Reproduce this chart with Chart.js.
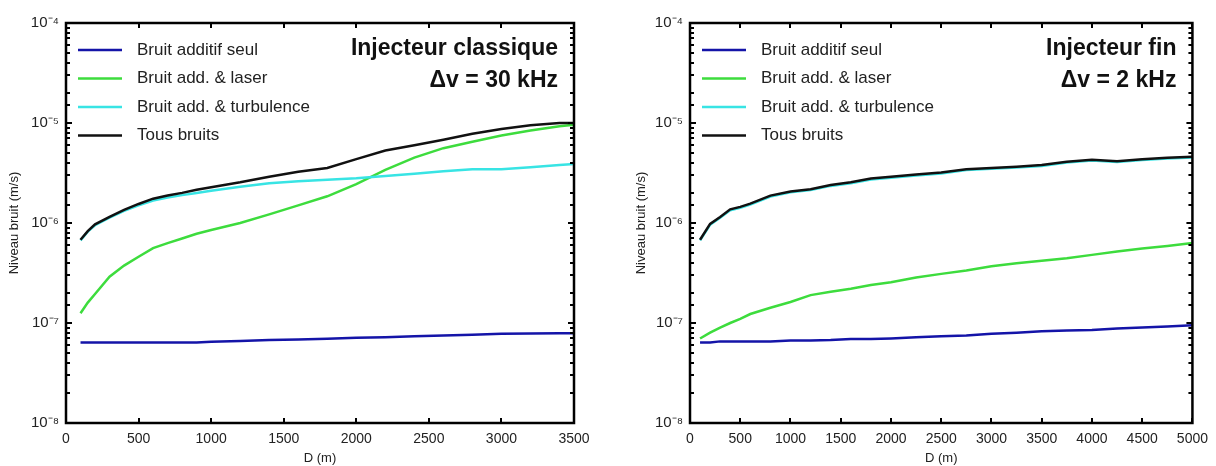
<!DOCTYPE html>
<html>
<head>
<meta charset="utf-8">
<script src="https://cdn.jsdelivr.net/npm/chart.js@4.4.1/dist/chart.umd.min.js"></script>
<style>
  html, body { margin: 0; padding: 0; background: #fff; }
  canvas { position: absolute; top: 0; }
  #left { left: 0; }
  #right { left: 608px; }
</style>
</head>
<body>
<canvas id="left" width="608" height="466"></canvas>
<canvas id="right" width="608" height="466"></canvas>
<script>
// legend labels (same for both plots)
const seriesLabels = ["Bruit additif seul", "Bruit add. & laser", "Bruit add. & turbulence", "Tous bruits"];

// y axis decades
const decadeValues = [1e-8, 1e-7, 1e-6, 1e-5, 1e-4];
const decadeLabels = ["10⁻⁸", "10⁻⁷", "10⁻⁶", "10⁻⁵", "10⁻⁴"];

// left plot : injecteur classique, D in m
const distClassique = [100, 150, 200, 300, 400, 500, 600, 700, 800, 900, 1000, 1200, 1400, 1600, 1800, 2000, 2200, 2400, 2600, 2800, 3000, 3200, 3400, 3500];
const additifClassique = [6.4e-8, 6.4e-8, 6.4e-8, 6.4e-8, 6.4e-8, 6.4e-8, 6.4e-8, 6.4e-8, 6.4e-8, 6.4e-8, 6.5e-8, 6.6e-8, 6.75e-8, 6.85e-8, 6.95e-8, 7.1e-8, 7.2e-8, 7.35e-8, 7.5e-8, 7.65e-8, 7.8e-8, 7.85e-8, 7.9e-8, 7.9e-8];
const laserClassique = [1.25e-7, 1.6e-7, 1.95e-7, 2.9e-7, 3.75e-7, 4.6e-7, 5.6e-7, 6.3e-7, 7.0e-7, 7.8e-7, 8.5e-7, 1.0e-6, 1.22e-6, 1.5e-6, 1.85e-6, 2.45e-6, 3.4e-6, 4.5e-6, 5.6e-6, 6.5e-6, 7.5e-6, 8.4e-6, 9.3e-6, 9.6e-6];
const turbulenceClassique = [6.7e-7, 8.2e-7, 9.5e-7, 1.13e-6, 1.32e-6, 1.5e-6, 1.68e-6, 1.8e-6, 1.9e-6, 2.0e-6, 2.1e-6, 2.3e-6, 2.5e-6, 2.62e-6, 2.7e-6, 2.8e-6, 2.95e-6, 3.1e-6, 3.3e-6, 3.45e-6, 3.45e-6, 3.6e-6, 3.8e-6, 3.9e-6];
const tousClassique = [6.8e-7, 8.3e-7, 9.7e-7, 1.15e-6, 1.35e-6, 1.55e-6, 1.75e-6, 1.88e-6, 2.0e-6, 2.15e-6, 2.28e-6, 2.55e-6, 2.9e-6, 3.25e-6, 3.55e-6, 4.35e-6, 5.3e-6, 6.0e-6, 6.8e-6, 7.8e-6, 8.7e-6, 9.5e-6, 1.0e-5, 1.0e-5];

// right plot : injecteur fin
const distFin = [100, 200, 300, 400, 500, 600, 800, 1000, 1200, 1400, 1600, 1800, 2000, 2250, 2500, 2750, 3000, 3250, 3500, 3750, 4000, 4250, 4500, 4750, 5000];
const additifFin = [6.4e-8, 6.4e-8, 6.55e-8, 6.55e-8, 6.55e-8, 6.55e-8, 6.55e-8, 6.7e-8, 6.7e-8, 6.75e-8, 6.9e-8, 6.9e-8, 7.0e-8, 7.2e-8, 7.35e-8, 7.5e-8, 7.8e-8, 8.0e-8, 8.25e-8, 8.4e-8, 8.5e-8, 8.8e-8, 9.0e-8, 9.2e-8, 9.5e-8];
const laserFin = [7.0e-8, 8.0e-8, 9.0e-8, 1.0e-7, 1.1e-7, 1.23e-7, 1.42e-7, 1.62e-7, 1.9e-7, 2.05e-7, 2.2e-7, 2.4e-7, 2.55e-7, 2.85e-7, 3.1e-7, 3.35e-7, 3.7e-7, 3.95e-7, 4.2e-7, 4.45e-7, 4.8e-7, 5.2e-7, 5.55e-7, 5.9e-7, 6.3e-7];
const turbulenceFin = [6.7e-7, 9.6e-7, 1.13e-6, 1.34e-6, 1.42e-6, 1.53e-6, 1.84e-6, 2.03e-6, 2.14e-6, 2.35e-6, 2.5e-6, 2.72e-6, 2.84e-6, 2.98e-6, 3.12e-6, 3.38e-6, 3.48e-6, 3.58e-6, 3.72e-6, 4.02e-6, 4.22e-6, 4.07e-6, 4.27e-6, 4.42e-6, 4.52e-6];
const tousFin = [6.8e-7, 9.8e-7, 1.15e-6, 1.37e-6, 1.45e-6, 1.56e-6, 1.88e-6, 2.07e-6, 2.18e-6, 2.4e-6, 2.55e-6, 2.78e-6, 2.9e-6, 3.05e-6, 3.2e-6, 3.45e-6, 3.55e-6, 3.65e-6, 3.8e-6, 4.1e-6, 4.3e-6, 4.15e-6, 4.35e-6, 4.5e-6, 4.6e-6];

const colors = ["#1414a8", "#3ddc3d", "#38e4e4", "#111111"];
const FONT = "'Liberation Sans', Arial, sans-serif";

Chart.defaults.font.family = FONT;
Chart.defaults.color = "#222";

function isDecade(v) {
  const l = Math.log10(v);
  return Math.abs(l - Math.round(l)) < 1e-6;
}

// box, inside ticks, legend and the annotation
const framePlugin = {
  id: "frame",
  afterDatasetsDraw(chart, args, opts) {
    const { ctx, chartArea: a, scales: { x, y } } = chart;
    ctx.save();
    ctx.strokeStyle = "#000";
    ctx.lineWidth = 2;
    ctx.beginPath();
    y.ticks.forEach(t => {
      const py = Math.round(y.getPixelForValue(t.value));
      const len = isDecade(t.value) ? 6 : 4;
      ctx.moveTo(a.left, py); ctx.lineTo(a.left + len, py);
      ctx.moveTo(a.right, py); ctx.lineTo(a.right - len, py);
    });
    x.ticks.forEach(t => {
      const px = Math.round(x.getPixelForValue(t.value));
      ctx.moveTo(px, a.bottom); ctx.lineTo(px, a.bottom - 5);
      ctx.moveTo(px, a.top); ctx.lineTo(px, a.top + 5);
    });
    ctx.stroke();
    ctx.lineWidth = 2.5;
    ctx.strokeRect(a.left, a.top, a.right - a.left, a.bottom - a.top);

    // legend
    ctx.font = "17px " + FONT;
    ctx.textBaseline = "middle";
    ctx.textAlign = "left";
    chart.data.datasets.forEach((ds, i) => {
      const ly = a.top + 27 + i * 28.5;
      ctx.strokeStyle = ds.borderColor;
      ctx.lineWidth = 2.5;
      ctx.beginPath();
      ctx.moveTo(a.left + 12, ly);
      ctx.lineTo(a.left + 56, ly);
      ctx.stroke();
      ctx.fillStyle = "#222";
      ctx.fillText(ds.label, a.left + 71, ly);
    });

    // annotation top right
    ctx.font = "bold 23px " + FONT;
    ctx.textAlign = "right";
    ctx.fillStyle = "#111";
    opts.lines.forEach((s, i) => {
      ctx.fillText(s, a.right - 16, a.top + 26 + i * 32);
    });
    ctx.restore();
  }
};

function makeChart(id, dist, series, xMax, yAxisWidth, rightPad, titlePad, lines) {
  const datasets = series.map((vals, i) => ({
    label: seriesLabels[i],
    data: dist.map((d, k) => ({ x: d, y: vals[k] })),
    borderColor: colors[i],
    backgroundColor: colors[i],
    borderWidth: 2.5,
    pointRadius: 0,
    tension: 0,
    order: 3 - i,
  }));
  return new Chart(document.getElementById(id), {
    type: "line",
    data: { datasets },
    options: {
      responsive: false,
      animation: false,
      devicePixelRatio: 1,
      layout: { padding: { left: 0, right: rightPad, top: 23, bottom: 0 } },
      scales: {
        x: {
          type: "linear",
          min: 0,
          max: xMax,
          grid: { display: false, drawTicks: false },
          border: { display: false },
          ticks: {
            stepSize: 500,
            padding: 8,
            font: { size: 14 },
            maxRotation: 0,
            callback: v => String(v),
          },
          title: { display: true, text: "D (m)", font: { size: 13 }, padding: 0 },
          afterFit(scale) { scale.height = 43; },
        },
        y: {
          type: "logarithmic",
          min: 1e-8,
          max: 1e-4,
          grid: { display: false, drawTicks: false },
          border: { display: false },
          ticks: {
            autoSkip: false,
            padding: 7,
            font: { size: 15 },
            callback(v) {
              const k = decadeValues.findIndex(d => Math.abs(d - v) / d < 1e-6);
              return k >= 0 ? decadeLabels[k] : "";
            },
          },
          title: { display: true, text: "Niveau bruit (m/s)", font: { size: 13 }, padding: { top: titlePad, bottom: 0 } },
          afterFit(scale) { scale.width = yAxisWidth; },
        },
      },
      plugins: {
        legend: { display: false },
        tooltip: { enabled: false },
        frame: { lines },
      },
    },
    plugins: [framePlugin],
  });
}

makeChart("left", distClassique,
  [additifClassique, laserClassique, turbulenceClassique, tousClassique],
  3500, 66, 34, 7, ["Injecteur classique", "Δv = 30 kHz"]);

makeChart("right", distFin,
  [additifFin, laserFin, turbulenceFin, tousFin],
  5000, 82, 23, 26, ["Injecteur fin", "Δv = 2 kHz"]);
</script>
</body>
</html>
